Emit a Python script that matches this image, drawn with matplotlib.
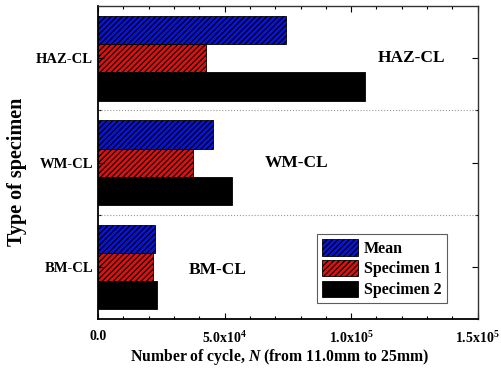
import matplotlib.pyplot as plt
import numpy as np
from matplotlib.ticker import MultipleLocator, FixedLocator

plt.rcParams['font.family'] = ['Liberation Serif', 'DejaVu Serif']
plt.rcParams['font.weight'] = 'bold'
plt.rcParams['axes.labelweight'] = 'bold'
plt.rcParams['mathtext.fontset'] = 'custom'
plt.rcParams['mathtext.rm'] = 'Liberation Serif:bold'
plt.rcParams['mathtext.it'] = 'Liberation Serif:bold:italic'
plt.rcParams['hatch.linewidth'] = 0.9

# data (BM-CL, WM-CL, HAZ-CL)
categories = ['BM-CL', 'WM-CL', 'HAZ-CL']
mean = [22500, 45400, 74200]
specimen1 = [21800, 37500, 42600]
specimen2 = [23300, 52900, 105400]
xtick_vals = [0, 50000, 100000, 150000]
xtick_labels = ['0.0', r'5.0x10$^{4}$', r'1.0x10$^{5}$', r'1.5x10$^{5}$']

fig = plt.figure(figsize=(5.01, 3.81), dpi=100)
ax = fig.add_axes([0.1956, 0.1627, 0.758, 0.821])

y = np.arange(len(categories))
h = 0.27
ax.barh(y + h, mean, height=h, color='#0a14d8', edgecolor='black', hatch='//////', linewidth=0.6, label='Mean')
ax.barh(y, specimen1, height=h, color='#e01010', edgecolor='black', hatch='//////', linewidth=0.6, label='Specimen 1')
ax.barh(y - h, specimen2, height=h, color='black', edgecolor='black', linewidth=0.6, label='Specimen 2')

for yy in [0.5, 1.5]:
    ax.axhline(yy, color='#999999', linestyle=':', linewidth=0.8)

ax.set_xlim(0, 150000)
ax.set_ylim(-0.5, 2.5)
ax.set_xticks(xtick_vals)
ax.set_xticklabels(xtick_labels, fontsize=10)
ax.xaxis.set_minor_locator(MultipleLocator(10000))
ax.set_yticks(y)
ax.set_yticklabels(categories, fontsize=10.5)
ax.yaxis.set_minor_locator(FixedLocator([0.5, 1.5]))
ax.tick_params(which='both', direction='in', top=True, right=True)
ax.tick_params(which='major', length=4, width=0.8)
ax.tick_params(which='minor', length=2.5, width=0.8)
ax.tick_params(axis='x', pad=8)
for s in ['left', 'bottom']:
    ax.spines[s].set_linewidth(1.3)
for s in ['top', 'right']:
    ax.spines[s].set_linewidth(1.0)
    ax.spines[s].set_color('#333333')

ax.text(124000, 2.0, 'HAZ-CL', fontsize=12.5, ha='center', va='center')
ax.text(78500, 1.0, 'WM-CL', fontsize=12.5, ha='center', va='center')
ax.text(47400, -0.03, 'BM-CL', fontsize=12.5, ha='center', va='center')

ax.set_xlabel(r'Number of cycle, $N$ (from 11.0mm to 25mm)', fontsize=11.3)
ax.xaxis.set_label_coords(0.479, -0.09)
ax.set_ylabel('Type of specimen', fontsize=14.5)
ax.yaxis.set_label_coords(-0.188, 0.47)

leg = ax.legend(loc='lower right', bbox_to_anchor=(0.918, 0.051), fontsize=11.5, frameon=True,
                fancybox=False, edgecolor='#333333', handlelength=2.3, handleheight=1.2,
                handletextpad=0.35, labelspacing=0.2, borderpad=0.3, borderaxespad=0)
leg.get_frame().set_linewidth(0.8)

fig.savefig('out.png', dpi=100)
